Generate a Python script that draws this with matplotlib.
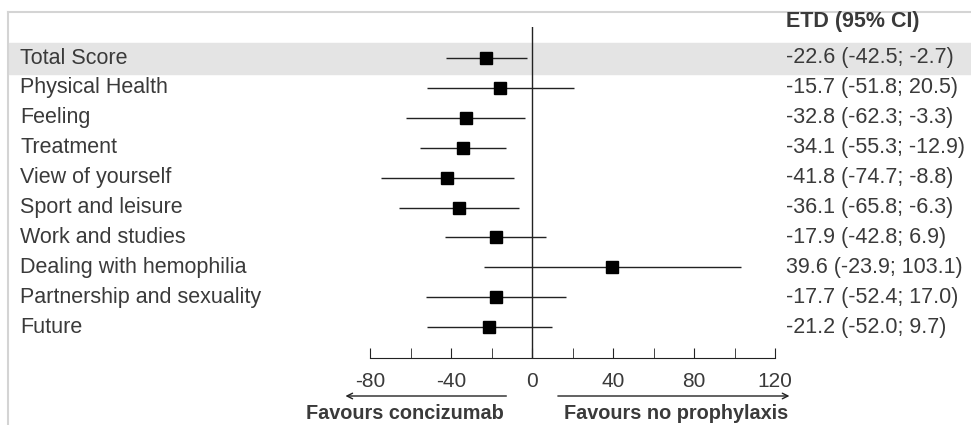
import matplotlib
matplotlib.use('Agg')
import matplotlib.pyplot as plt
from matplotlib.patches import Rectangle
from matplotlib.lines import Line2D
from matplotlib.transforms import blended_transform_factory
import numpy as np

plt.rcParams['font.family'] = ['Liberation Sans', 'DejaVu Sans']
plt.rcParams['axes.unicode_minus'] = False

# data
domains = ['Total Score', 'Physical Health', 'Feeling', 'Treatment', 'View of yourself',
           'Sport and leisure', 'Work and studies', 'Dealing with hemophilia',
           'Partnership and sexuality', 'Future']
etd = [-22.6, -15.7, -32.8, -34.1, -41.8, -36.1, -17.9, 39.6, -17.7, -21.2]
ci_low = [-42.5, -51.8, -62.3, -55.3, -74.7, -65.8, -42.8, -23.9, -52.4, -52.0]
ci_high = [-2.7, 20.5, -3.3, -12.9, -8.8, -6.3, 6.9, 103.1, 17.0, 9.7]
major_ticks = [-80, -40, 0, 40, 80, 120]
minor_ticks = [-60, -20, 20, 60, 100]

W, H = 971, 425
fig = plt.figure(figsize=(W / 100, H / 100), dpi=100)

def fx(px):
    return px / W

def fy(py):
    return 1 - py / H

# axes: -80 at 370px, 120 at 775px, top 27px, spine 358px
ax = fig.add_axes([fx(370), fy(358), fx(775) - fx(370), fy(27) - fy(358)])
ax.set_xlim(-80, 120)
row0, step = 58, 29.9
ax.set_ylim((358 - row0) / step, (27 - row0) / step)
ax.patch.set_alpha(0)

txtc = '#3a3a3a'
linec = '#222222'

# frame lines and highlight band
fig.add_artist(Line2D([fx(8), 1], [fy(12), fy(12)], color='#d4d4d4', lw=1.5))
fig.add_artist(Line2D([fx(8), fx(8)], [fy(12), 0], color='#d4d4d4', lw=1.5))
tr_band = blended_transform_factory(fig.transFigure, ax.transData)
ax.add_patch(Rectangle((fx(9), -0.5), 1 - fx(9), 1.03, transform=tr_band,
                       color='#e4e4e4', zorder=0, clip_on=False))

y = np.arange(len(domains))
ax.axvline(0, color=linec, lw=1.0, zorder=1)
ax.hlines(y, ci_low, ci_high, color=linec, lw=1.0, zorder=2)
ax.plot(etd, y, 's', color='black', markersize=8.5, zorder=3)

tr_lab = blended_transform_factory(fig.transFigure, ax.transData)
for i, d in enumerate(domains):
    ax.text(fx(20), i, d, transform=tr_lab, ha='left', va='center',
            fontsize=15.5, color=txtc, clip_on=False)
    ax.text(fx(786), i, '%.1f (%.1f; %.1f)' % (etd[i], ci_low[i], ci_high[i]),
            transform=tr_lab, ha='left', va='center', fontsize=15.5, color=txtc,
            clip_on=False)
fig.text(fx(786), fy(21), 'ETD (95% CI)', ha='left', va='center', fontsize=15.5,
         fontweight='bold', color=txtc)

for s in ['top', 'right', 'left']:
    ax.spines[s].set_visible(False)
ax.spines['bottom'].set_color(linec)
ax.set_yticks([])
ax.set_xticks(major_ticks)
ax.set_xticks(minor_ticks, minor=True)
ax.tick_params(axis='x', which='both', direction='in', length=7, color=linec)
ax.tick_params(axis='x', which='major', labelsize=15, labelcolor=txtc, pad=10)

# direction arrows
tr_arr = blended_transform_factory(ax.transData, fig.transFigure)
ax.annotate('', xy=(-93.5, fy(396)), xytext=(-11.3, fy(396)), xycoords=tr_arr,
            textcoords=tr_arr, arrowprops=dict(arrowstyle='->', color=linec, lw=1.0))
ax.annotate('', xy=(128.5, fy(396)), xytext=(11.4, fy(396)), xycoords=tr_arr,
            textcoords=tr_arr, arrowprops=dict(arrowstyle='->', color=linec, lw=1.0))
fig.text(fx(405), fy(423), 'Favours concizumab', ha='center', va='bottom', fontsize=14.3,
         fontweight='bold', color=txtc)
fig.text(fx(676), fy(423), 'Favours no prophylaxis', ha='center', va='bottom', fontsize=14.3,
         fontweight='bold', color=txtc)

fig.savefig('out.png', dpi=100)
